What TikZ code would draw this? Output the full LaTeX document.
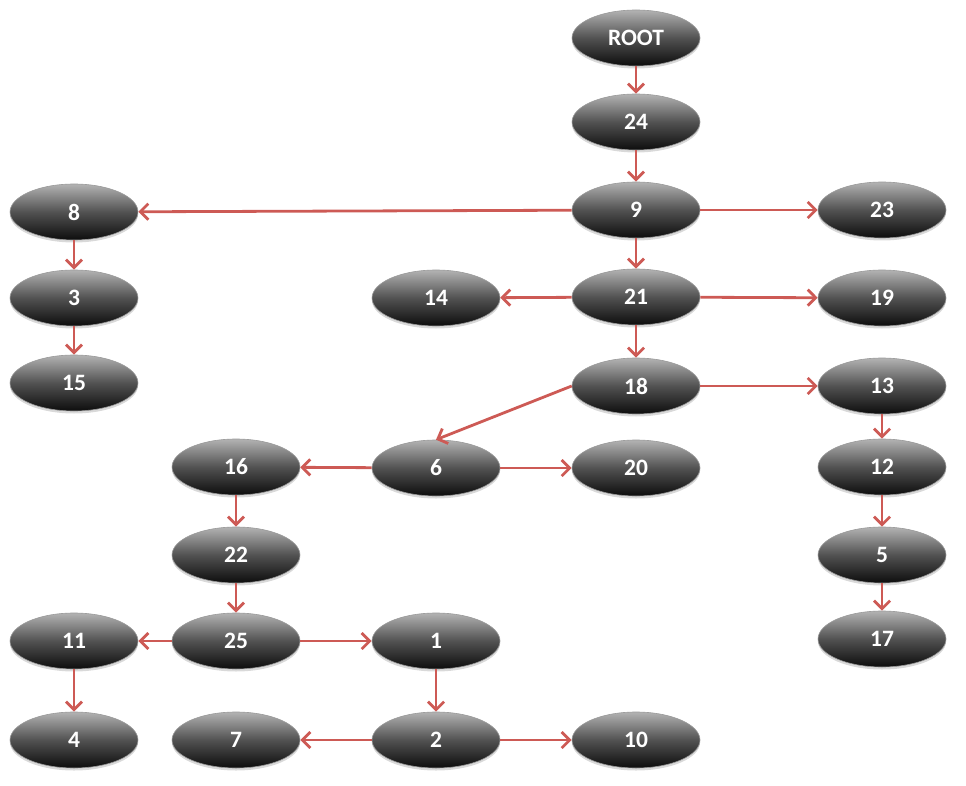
\documentclass[tikz,border=0pt]{standalone}
\usepackage{fontspec}
\setmainfont{Carlito}
\usetikzlibrary{shapes.geometric,arrows.meta,shadows}
\definecolor{edgered}{RGB}{205,90,85}
\tikzset{
  nd/.style={ellipse, minimum width=128pt, minimum height=56pt, inner sep=0pt,
    top color=black!30, bottom color=black!95, middle color=black!68,
    draw=black!40, line width=0.6pt,
    drop shadow={opacity=0.3, shadow xshift=0pt, shadow yshift=-2.5pt},
    text=white, font=\bfseries\fontsize{23.5}{26}\selectfont},
  ed/.style={draw=edgered, line width=2.8pt, -{Straight Barb[length=8pt,width=16pt,line width=2.8pt]}}
}
\begin{document}
\begin{tikzpicture}[x=1pt,y=-1pt]
\useasboundingbox (0,0) rectangle (966,786);
\node[nd] (root) at (636,38) {ROOT};
\node[nd] (n24) at (636,122) {24};
\node[nd] (n9) at (636,210) {9};
\node[nd] (n8) at (74,212) {8};
\node[nd] (n23) at (882,210) {23};
\node[nd] (n3) at (74,298) {3};
\node[nd] (n15) at (74,383) {15};
\node[nd] (n21) at (636,297) {21};
\node[nd] (n14) at (436,298) {14};
\node[nd] (n19) at (882,298) {19};
\node[nd] (n18) at (636,386) {18};
\node[nd] (n13) at (882,386) {13};
\node[nd] (n16) at (236,467) {16};
\node[nd] (n6) at (436,468) {6};
\node[nd] (n20) at (636,468) {20};
\node[nd] (n12) at (882,467) {12};
\node[nd] (n22) at (236,555) {22};
\node[nd] (n5) at (882,555) {5};
\node[nd] (n11) at (74,641) {11};
\node[nd] (n25) at (236,641) {25};
\node[nd] (n1) at (436,641) {1};
\node[nd] (n17) at (882,639) {17};
\node[nd] (n4) at (74,740) {4};
\node[nd] (n7) at (236,740) {7};
\node[nd] (n2) at (436,740) {2};
\node[nd] (n10) at (636,740) {10};
\draw[ed] (root) -- (n24);
\draw[ed] (n24) -- (n9);
\draw[ed] (n9) -- (n8);
\draw[ed] (n9) -- (n23);
\draw[ed] (n9) -- (n21);
\draw[ed] (n8) -- (n3);
\draw[ed] (n3) -- (n15);
\draw[ed] (n21) -- (n14);
\draw[ed] (n21) -- (n19);
\draw[ed] (n21) -- (n18);
\draw[ed] (n18) -- (n13);
\draw[ed] (n18.west) -- (n6.north);
\draw[ed] (n13) -- (n12);
\draw[ed] (n12) -- (n5);
\draw[ed] (n5) -- (n17);
\draw[ed] (n6) -- (n16);
\draw[ed] (n6) -- (n20);
\draw[ed] (n16) -- (n22);
\draw[ed] (n22) -- (n25);
\draw[ed] (n25) -- (n11);
\draw[ed] (n25) -- (n1);
\draw[ed] (n11) -- (n4);
\draw[ed] (n1) -- (n2);
\draw[ed] (n2) -- (n7);
\draw[ed] (n2) -- (n10);
\end{tikzpicture}
\end{document}
